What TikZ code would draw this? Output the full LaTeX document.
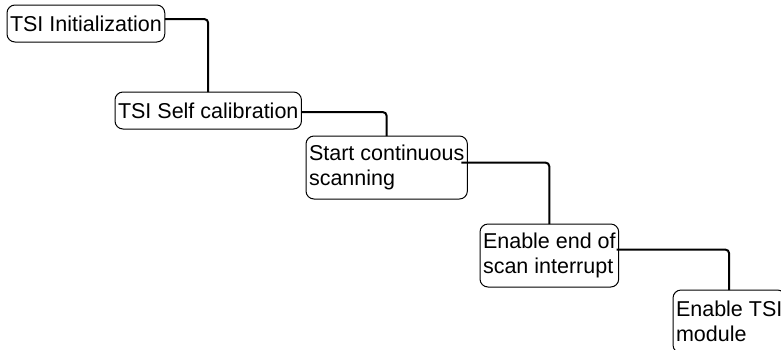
\documentclass[tikz,border=0pt]{standalone}
\usepackage{fontspec}
\setmainfont{Liberation Sans}
\usetikzlibrary{positioning}

\begin{document}
\begin{tikzpicture}[
    x=1pt, y=-1pt,
    stepbox/.style={draw, rounded corners=8pt, line width=1pt, inner xsep=3pt, inner ysep=0pt, outer sep=0pt, align=left, font=\fontsize{21.5}{25}\selectfont},
    oneline/.style={minimum height=37pt},
    twoline/.style={minimum height=63pt},
    link/.style={line width=2pt, rounded corners=4pt}
]
\clip (0,0) rectangle (781,349);

% --- Steps ---
\node[stepbox, oneline, anchor=north west] (init) at (7,5) {TSI Initialization};
\node[stepbox, oneline, below right=50pt and 108pt of init.south west] (calib) {TSI Self calibration};
\node[stepbox, twoline, below right=7pt and 191pt of calib.south west] (scan) {Start continuous\\scanning};
\node[stepbox, twoline, below right=25pt and 174pt of scan.south west] (eosint) {Enable end of\\scan interrupt};
\node[stepbox, twoline, below right=3pt and 193pt of eosint.south west] (module) {Enable TSI\\module};

% --- Links ---
\draw[link] ([yshift=4.5pt]init.east) -| (calib.north);
\draw[link] ([yshift=-1.5pt]calib.east) -| (scan.north);
\draw[link] ([xshift=-6pt, yshift=5pt]scan.east) -| (eosint.north);
\draw[link] ([xshift=-2pt, yshift=6pt]eosint.east) -| (module.north);

\end{tikzpicture}
\end{document}
